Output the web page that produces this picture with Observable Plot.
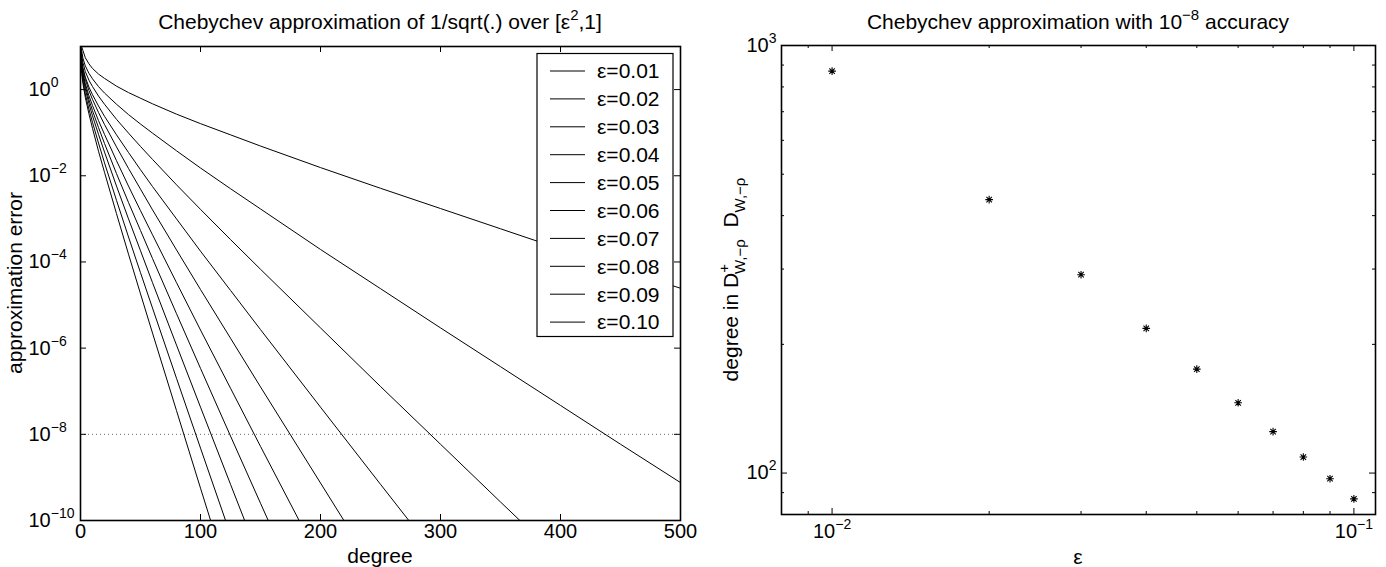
<!DOCTYPE html>
<html>
<head>
<meta charset="utf-8">
<script src="https://cdn.jsdelivr.net/npm/d3@7"></script>
<script src="https://cdn.jsdelivr.net/npm/@observablehq/plot@0.6"></script>
<style>
  html, body { margin: 0; padding: 0; background: #fff; }
  #wrap { position: relative; width: 1386px; height: 567px; overflow: hidden; background: #fff; }
  .panel { position: absolute; top: 0; }
  svg text { white-space: pre; }
</style>
</head>
<body>
<div id="wrap"><div id="left" class="panel" style="left:0px"></div><div id="right" class="panel" style="left:700px"></div></div>
<script>
// ---------------- data ----------------
// Left panel: approximation error (as log10 exponent) at these polynomial degrees
const degrees = [0, 1, 2, 4, 7, 10, 15, 20, 30, 40, 50, 60, 80, 100, 125, 150, 200, 250, 300, 350, 400, 450, 500];
const epsLabels = ["ε=0.01", "ε=0.02", "ε=0.03", "ε=0.04", "ε=0.05", "ε=0.06", "ε=0.07", "ε=0.08", "ε=0.09", "ε=0.10"];
const exp001 = [1, 0.99, 0.91, 0.74, 0.60, 0.49, 0.36, 0.26, 0.08, -0.07, -0.20, -0.33, -0.57, -0.79, -1.05, -1.31, -1.81, -2.29, -2.76, -3.23, -3.70, -4.16, -4.61];
const exp002 = [1, 0.90, 0.73, 0.55, 0.38, 0.25, 0.07, -0.08, -0.34, -0.58, -0.80, -1.01, -1.42, -1.82, -2.30, -2.77, -3.71, -4.62, -5.53, -6.43, -7.33, -8.23, -9.12];
const exp003 = [1, 0.80, 0.63, 0.42, 0.22, 0.07, -0.15, -0.34, -0.69, -1.01, -1.32, -1.62, -2.21, -2.78, -3.48, -4.17, -5.53, -6.89, -8.23, -9.57, -10.90];
const exp004 = [1, 0.70, 0.51, 0.29, 0.06, -0.12, -0.38, -0.62, -1.05, -1.46, -1.86, -2.25, -3.00, -3.75, -4.66, -5.57, -7.37, -9.16, -10.94];
const exp005 = [1, 0.67, 0.47, 0.24, -0.02, -0.23, -0.53, -0.81, -1.33, -1.83, -2.31, -2.79, -3.72, -4.64, -5.77, -6.90, -9.13, -11.36];
const exp006 = [1, 0.60, 0.39, 0.14, -0.14, -0.37, -0.72, -1.04, -1.65, -2.24, -2.81, -3.37, -4.48, -5.58, -6.93, -8.28, -10.95];
const exp007 = [1, 0.56, 0.35, 0.08, -0.23, -0.49, -0.88, -1.25, -1.95, -2.62, -3.27, -3.92, -5.20, -6.47, -8.04, -9.60, -12.70];
const exp008 = [1, 0.52, 0.30, 0.01, -0.32, -0.61, -1.04, -1.45, -2.24, -3.00, -3.74, -4.48, -5.93, -7.37, -9.16, -10.94];
const exp009 = [1, 0.44, 0.21, -0.10, -0.45, -0.76, -1.24, -1.70, -2.57, -3.42, -4.25, -5.07, -6.70, -8.32, -10.33];
const exp010 = [1, 0.38, 0.15, -0.18, -0.56, -0.90, -1.43, -1.92, -2.88, -3.82, -4.74, -5.65, -7.45, -9.25, -11.47];
const leftXTicks = [0, 100, 200, 300, 400, 500];
const leftYTicks = [1e-10, 1e-8, 1e-6, 1e-4, 1e-2, 1];
const accuracyLevel = [1e-8];

// Right panel: degree needed for 1e-8 accuracy
const rightEps = [0.01, 0.02, 0.03, 0.04, 0.05, 0.06, 0.07, 0.08, 0.09, 0.10];
const rightDegree = [871, 436, 291, 218, 175, 146, 125, 109, 97, 87];
const rightXMajor = [0.01, 0.1];
const rightXMinor = [0.009, 0.02, 0.03, 0.04, 0.05, 0.06, 0.07, 0.08, 0.09];
const rightYMajor = [100, 1000];
const rightYMinor = [90, 200, 300, 400, 500, 600, 700, 800, 900];

// ---------------- helpers ----------------
const FONT = "'Liberation Sans', Arial, Helvetica, sans-serif";
const errorSeries = [exp001, exp002, exp003, exp004, exp005, exp006, exp007, exp008, exp009, exp010];
const rows = [];
errorSeries.forEach((arr, i) => arr.forEach((v, j) => rows.push({eps: epsLabels[i], degree: degrees[j], error: Math.pow(10, v)})));
const pow10Label = d => "10^" + Math.round(Math.log10(d));

function richText(sel, parts, size) {
  let shift = 0;
  for (const [str, kind, dx] of parts) {
    const target = kind === "sup" ? -0.42 * size : kind === "sub" ? 0.32 * size : 0;
    const ts = sel.append("tspan").attr("dy", target - shift).text(str);
    if (kind !== "n") ts.attr("font-size", Math.round(size * 0.7));
    if (dx) ts.attr("dx", dx);
    shift = target;
  }
}
function supify(svg, size) {
  d3.select(svg).selectAll("text").each(function () {
    const s = this.textContent;
    if (!s.includes("^")) return;
    const [base, ex] = s.split("^");
    const t = d3.select(this);
    t.text(null);
    t.append("tspan").text(base);
    t.append("tspan").attr("font-size", Math.round(size * 0.7)).attr("dy", -0.45 * size).text(ex.replace("-", "−"));
  });
}

// ---------------- left panel ----------------
const LW = 700, LH = 567, LML = 80, LMR = 20, LMT = 46, LMB = 47;
const lfw = LW - LML - LMR, lfh = LH - LMT - LMB;
const left = Plot.plot({
  width: LW, height: LH,
  marginLeft: LML, marginRight: LMR, marginTop: LMT, marginBottom: LMB,
  style: {fontFamily: FONT, fontSize: "20px", background: "white", color: "black"},
  x: {domain: [0, 500], axis: null},
  y: {type: "log", domain: [1e-10, 10], axis: null},
  marks: [
    Plot.ruleY(accuracyLevel, {y: d => d, stroke: "#666", strokeWidth: 1, strokeDasharray: "1,3"}),
    Plot.line(rows, {x: "degree", y: "error", z: "eps", stroke: "black", strokeWidth: 1, clip: true}),
    Plot.tickX(leftXTicks, {x: d => d, insetTop: lfh - 6, stroke: "black"}),
    Plot.tickX(leftXTicks, {x: d => d, insetBottom: lfh - 6, stroke: "black"}),
    Plot.tickY(leftYTicks, {y: d => d, insetRight: lfw - 6, stroke: "black"}),
    Plot.tickY(leftYTicks, {y: d => d, insetLeft: lfw - 6, stroke: "black"}),
    Plot.frame({stroke: "black", strokeWidth: 1.6}),
    Plot.text(leftXTicks, {x: d => d, text: d => String(d), frameAnchor: "bottom", dy: 17, fontSize: 20, fill: "black"}),
    Plot.text(leftYTicks, {y: d => d, text: pow10Label, frameAnchor: "left", textAnchor: "start", dx: -52, fontSize: 20, fill: "black"})
  ]
});
supify(left, 20);
{
  const svg = d3.select(left);
  const t = svg.append("text").attr("x", LML + lfw / 2).attr("y", 29).attr("text-anchor", "middle")
    .attr("font-size", 21).attr("font-family", FONT).attr("fill", "black");
  richText(t, [["Chebychev approximation of 1/sqrt(.) over [ε", "n"], ["2", "sup"], [",1]", "n"]], 21);
  svg.append("text").attr("x", LML + lfw / 2).attr("y", 563).attr("text-anchor", "middle")
    .attr("font-size", 21).attr("font-family", FONT).attr("fill", "black").text("degree");
  svg.append("text").attr("transform", `translate(22,${LMT + lfh / 2}) rotate(-90)`).attr("text-anchor", "middle")
    .attr("font-size", 21).attr("font-family", FONT).attr("fill", "black").text("approximation error");
  // legend
  const lg = svg.append("g");
  const lx = 537, ly = 53.5, lw = 136, lh = 283, step = 27.9;
  lg.append("rect").attr("x", lx).attr("y", ly).attr("width", lw).attr("height", lh)
    .attr("fill", "white").attr("stroke", "black").attr("stroke-width", 1.2);
  epsLabels.forEach((lab, i) => {
    const yy = 71 + i * step;
    lg.append("line").attr("x1", 550).attr("x2", 585).attr("y1", yy).attr("y2", yy).attr("stroke", "black").attr("stroke-width", 1);
    lg.append("text").attr("x", 597).attr("y", yy).attr("dy", "0.35em").attr("font-size", 21)
      .attr("text-anchor", "start").attr("font-family", FONT).attr("fill", "black").text(lab);
  });
}
document.getElementById("left").appendChild(left);

// ---------------- right panel ----------------
const RW = 686, RH = 567, RML = 81, RMR = 11, RMT = 45, RMB = 53;
const rfw = RW - RML - RMR, rfh = RH - RMT - RMB;
const pts = rightEps.map((e, i) => ({eps: e, degree: rightDegree[i]}));
const star = {
  draw(ctx, size) {
    const r = Math.sqrt(size / Math.PI), q = r * 0.72;
    ctx.moveTo(-r, 0); ctx.lineTo(r, 0);
    ctx.moveTo(0, -r); ctx.lineTo(0, r);
    ctx.moveTo(-q, -q); ctx.lineTo(q, q);
    ctx.moveTo(-q, q); ctx.lineTo(q, -q);
  }
};
const right = Plot.plot({
  width: RW, height: RH,
  marginLeft: RML, marginRight: RMR, marginTop: RMT, marginBottom: RMB,
  style: {fontFamily: FONT, fontSize: "20px", background: "white", color: "black"},
  x: {type: "log", domain: [0.008, 0.11], axis: null},
  y: {type: "log", domain: [80, 1000], axis: null},
  marks: [
    Plot.tickX(rightXMajor, {x: d => d, insetTop: rfh - 6, stroke: "black"}),
    Plot.tickX(rightXMajor, {x: d => d, insetBottom: rfh - 6, stroke: "black"}),
    Plot.tickX(rightXMinor, {x: d => d, insetTop: rfh - 3, stroke: "black"}),
    Plot.tickX(rightXMinor, {x: d => d, insetBottom: rfh - 3, stroke: "black"}),
    Plot.tickY(rightYMajor, {y: d => d, insetRight: rfw - 6, stroke: "black"}),
    Plot.tickY(rightYMajor, {y: d => d, insetLeft: rfw - 6, stroke: "black"}),
    Plot.tickY(rightYMinor, {y: d => d, insetRight: rfw - 3, stroke: "black"}),
    Plot.tickY(rightYMinor, {y: d => d, insetLeft: rfw - 3, stroke: "black"}),
    Plot.frame({stroke: "black", strokeWidth: 1.6}),
    Plot.dot(pts, {x: "eps", y: "degree", symbol: star, r: 3.8, stroke: "black", fill: "none", strokeWidth: 1.1}),
    Plot.text(rightXMajor, {x: d => d, text: pow10Label, frameAnchor: "bottom", dy: 23, fontSize: 20, fill: "black"}),
    Plot.text(rightYMajor, {y: d => d, text: pow10Label, frameAnchor: "left", textAnchor: "start", dx: -35, fontSize: 20, fill: "black"})
  ]
});
supify(right, 20);
{
  const svg = d3.select(right);
  const t = svg.append("text").attr("x", RML + rfw / 2).attr("y", 29).attr("text-anchor", "middle")
    .attr("font-size", 21).attr("font-family", FONT).attr("fill", "black");
  richText(t, [["Chebychev approximation with 10", "n"], ["−8", "sup"], [" accuracy", "n"]], 21);
  svg.append("text").attr("x", RML + rfw / 2).attr("y", 564).attr("text-anchor", "middle")
    .attr("font-size", 21).attr("font-family", FONT).attr("fill", "black").text("ε");
  const yl = svg.append("text").attr("transform", `translate(38,${RMT + rfh / 2}) rotate(-90)`).attr("text-anchor", "middle")
    .attr("font-size", 21).attr("font-family", FONT).attr("fill", "black");
  richText(yl, [["degree in D", "n"], ["+", "sup"], ["W,−ρ", "sub", -10], ["  D", "n"], ["W,−ρ", "sub"]], 21);
}
document.getElementById("right").appendChild(right);
</script>
</body>
</html>
